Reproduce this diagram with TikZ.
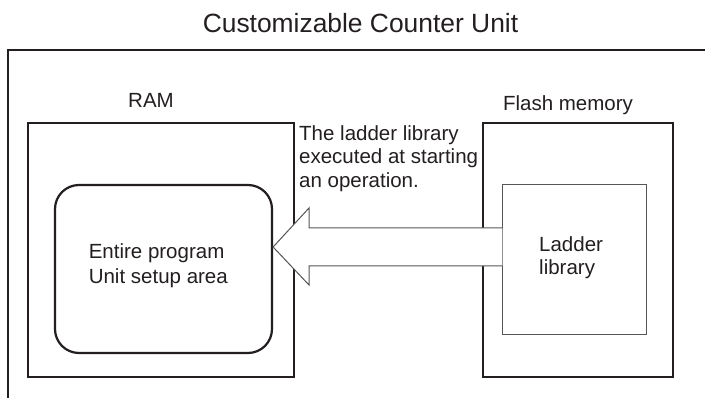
\documentclass[tikz,border=0pt]{standalone}
\usepackage{fontspec}
\setmainfont{Liberation Sans}
\definecolor{ink}{HTML}{231F20}
\definecolor{thin}{HTML}{555555}
\begin{document}
\begin{tikzpicture}[x=1pt,y=-1pt,
  lbl/.style={inner sep=0pt,text=ink,font=\fontsize{20.5}{23.5}\selectfont},
  ttl/.style={inner sep=0pt,text=ink,font=\fontsize{26.4}{30}\selectfont},
  membox/.style={draw=ink,line width=1.6pt,minimum width=#1,inner sep=0pt,minimum height=254pt},
  areabox/.style={draw=ink,line width=2.2pt,rounded corners=24pt,minimum width=217pt,minimum height=168pt,inner sep=0pt},
  libbox/.style={draw=thin,line width=1pt,minimum width=143.5pt,minimum height=150pt,inner sep=0pt},
  blockarrow/.style={draw=thin,line width=1pt,fill=white,line join=miter}]
\useasboundingbox (0,0) rectangle (705,398);
\fill[white] (0,0) rectangle (705,398);
% outer frame
\coordinate (frameR) at (705,50);
\coordinate (frameC) at (8,50);
\coordinate (frameB) at (8,398);
\draw[draw=ink,line width=1.6pt] (frameR) -- (frameC) -- (frameB);
\node[ttl,anchor=base] (title) at (360.5,33) {Customizable Counter Unit};
% memories
\node[membox=266pt] (ram) at (161,250) {};
\node[membox=190.5pt] (flash) at (578,250) {};
\node[lbl,anchor=base] (ramlbl) at (151,108) {RAM};
\node[lbl,anchor=base] (flashlbl) at (568,111) {Flash memory};
\node[areabox] (area) at (163.5,269) {};
\node[libbox] (lib) at (574.5,260) {};
% block arrow from library to area
\coordinate (tip) at (area.east |- 0,247);
\draw[blockarrow] (lib.west |- 0,228) -- (309,228) -- (309,208) -- (tip)
  -- (309,285) -- (309,266) -- (lib.west |- 0,266);
% texts
\node[lbl,anchor=north west,align=left] (note) at (299,125.2) {The ladder library\\executed at starting\\an operation.};
\node[lbl,anchor=north west,align=left,font=\fontsize{20.5}{25}\selectfont] (areatxt) at (88.6,243.2) {Entire program\\Unit setup area};
\node[lbl,anchor=north west,align=left] (libtxt) at (539,236.2) {Ladder\\library};
\end{tikzpicture}
\end{document}
